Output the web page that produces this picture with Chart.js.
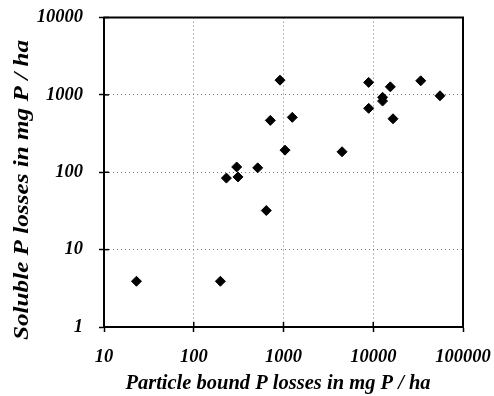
<!DOCTYPE html>
<html>
<head>
<meta charset="utf-8">
<script src="https://cdn.jsdelivr.net/npm/chart.js@4"></script>
<style>
  html, body { margin: 0; padding: 0; background: #fff; }
  #wrap { width: 494px; height: 396px; }
</style>
</head>
<body>
<div id="wrap"><canvas id="scatterChart" width="494" height="396"></canvas></div>
<script>
// Particle bound P losses (mg P / ha)
const particleBound = [23, 198, 231, 301, 311, 516, 643, 713, 914, 1040, 1253, 4490, 8890, 8890, 12700, 12700, 15500, 16600, 33800, 55400];
// Soluble P losses (mg P / ha)
const soluble = [3.9, 3.9, 84, 117, 87, 114, 32, 468, 1550, 193, 512, 184, 1450, 670, 930, 832, 1270, 491, 1520, 973];

const xTickValues = [10, 100, 1000, 10000, 100000];
const yTickValues = [1, 10, 100, 1000, 10000];

const xTitle = 'Particle bound P losses in mg P / ha';
const yTitle = 'Soluble P losses in mg P / ha';

const labelFont = { family: 'Liberation Serif', size: 18.5, style: 'italic', weight: 'bold' };

// frame on top/right, inward tick stubs, and the two axis titles
const framePlugin = {
  id: 'frame',
  afterDatasetsDraw(chart) {
    const { ctx, chartArea: a, scales } = chart;
    ctx.save();
    ctx.strokeStyle = '#000';
    ctx.lineWidth = 2;
    ctx.strokeRect(a.left, a.top, a.right - a.left, a.bottom - a.top);
    ctx.lineWidth = 1.5;
    xTickValues.forEach(v => {
      const px = scales.x.getPixelForValue(v);
      ctx.beginPath();
      ctx.moveTo(px, a.bottom);
      ctx.lineTo(px, a.bottom - 5);
      ctx.stroke();
    });
    yTickValues.forEach(v => {
      const py = scales.y.getPixelForValue(v);
      ctx.beginPath();
      ctx.moveTo(a.left, py);
      ctx.lineTo(a.left + 5, py);
      ctx.stroke();
    });

    // axis titles
    ctx.fillStyle = '#000';
    ctx.textAlign = 'center';
    ctx.textBaseline = 'alphabetic';
    ctx.font = 'italic bold 20.5px "Liberation Serif"';
    ctx.fillText(xTitle, 278, 389);

    // y title is stretched along its baseline in the original
    ctx.font = 'italic bold 21px "Liberation Serif"';
    const w = ctx.measureText(yTitle).width;
    ctx.translate(28, 190);
    ctx.rotate(-Math.PI / 2);
    ctx.scale(300 / w, 1);
    ctx.fillText(yTitle, 0, 0);
    ctx.restore();
  }
};

const ctx = document.getElementById('scatterChart').getContext('2d');

new Chart(ctx, {
  type: 'scatter',
  data: {
    datasets: [{
      data: particleBound.map((x, i) => ({ x: x, y: soluble[i] })),
      pointStyle: 'rectRot',
      radius: 5,
      backgroundColor: '#000',
      borderColor: '#000',
      borderWidth: 1
    }]
  },
  options: {
    responsive: false,
    animation: false,
    layout: {
      padding: { top: 17.5, right: 31, left: 0, bottom: 0 }
    },
    plugins: {
      legend: { display: false },
      tooltip: { enabled: false }
    },
    scales: {
      x: {
        type: 'logarithmic',
        min: 10,
        max: 100000,
        afterBuildTicks(scale) {
          scale.ticks = xTickValues.map(v => ({ value: v }));
        },
        afterFit(scale) {
          scale.height = 69;
          scale.paddingLeft = 0;
          scale.paddingRight = 0;
        },
        ticks: {
          color: '#000',
          font: labelFont,
          padding: 14,
          maxRotation: 0,
          autoSkip: false,
          callback: v => String(v)
        },
        grid: {
          color: '#777',
          lineWidth: 1,
          tickLength: 5,
          tickColor: '#000',
          tickWidth: 1.5
        },
        border: {
          display: true,
          color: '#000',
          width: 2,
          dash: [1, 3]
        }
      },
      y: {
        type: 'logarithmic',
        min: 1,
        max: 10000,
        afterBuildTicks(scale) {
          scale.ticks = yTickValues.map(v => ({ value: v }));
        },
        afterFit(scale) {
          scale.width = 104;
          scale.paddingTop = 0;
          scale.paddingBottom = 0;
        },
        ticks: {
          color: '#000',
          font: labelFont,
          padding: 16,
          autoSkip: false,
          callback: v => String(v)
        },
        grid: {
          color: '#777',
          lineWidth: 1,
          tickLength: 5,
          tickColor: '#000',
          tickWidth: 1.5
        },
        border: {
          display: true,
          color: '#000',
          width: 2,
          dash: [1, 3]
        }
      }
    }
  },
  plugins: [framePlugin]
});
</script>
</body>
</html>
